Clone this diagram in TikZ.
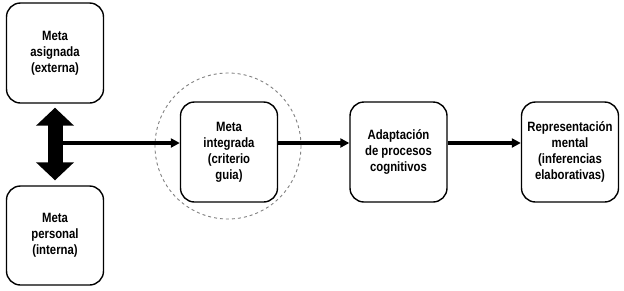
\documentclass[tikz,border=0pt]{standalone}
\usepackage{fontspec}
\setmainfont{Liberation Sans}[FakeStretch=0.84]
\usetikzlibrary{arrows.meta}

\begin{document}
\begin{tikzpicture}[
		x=1pt, y=-1pt,
		box/.style={draw, line width=1.4pt, rounded corners=14pt, minimum width=97pt, minimum height=100pt, inner sep=0pt, align=center, font=\bfseries\fontsize{13.5}{16}\selectfont},
		focus/.style={circle, draw=gray, dashed, line width=0.9pt, minimum size=146pt, inner sep=0pt},
		flow/.style={line width=3.2pt, -{Triangle[length=9pt,width=9pt]}},
		bigarrow/.style={line width=15pt, {Triangle[length=18pt,width=37pt]}-{Triangle[length=18pt,width=37pt]}},
		line join=round
		]
		\useasboundingbox (0,0) rectangle (624,290);
		
		% ---- circle round the integrated goal ----
		\node[focus] (foco) at (228,146) {};
		
		% ---- boxes ----
		\node[box] (asig) at (55,53) {Meta\\asignada\\(externa)};
		\node[box, minimum height=99pt] (pers) at (55,235.5) {Meta\\personal\\(interna)};
		\node[box] (integ) at (229,152) {Meta\\integrada\\(criterio\\guia)};
		\node[box] (adapt) at (398.5,152) {Adaptación\\de procesos\\cognitivos};
		\node[box] (repr) at (570,152) {Representación\\mental\\(inferencias\\elaborativas)};
		
		% ---- arrows ----
		\draw[bigarrow] ([yshift=-4pt]asig.south) -- ([yshift=5pt]pers.north);
		\coordinate (mid) at (55,143);
		\draw[flow] (mid) -- (mid -| integ.west);
		\draw[flow] ([yshift=9pt]integ.east) -- ([yshift=9pt]adapt.west);
		\draw[flow] ([yshift=9pt]adapt.east) -- ([yshift=9pt]repr.west);
	\end{tikzpicture}
\end{document}
